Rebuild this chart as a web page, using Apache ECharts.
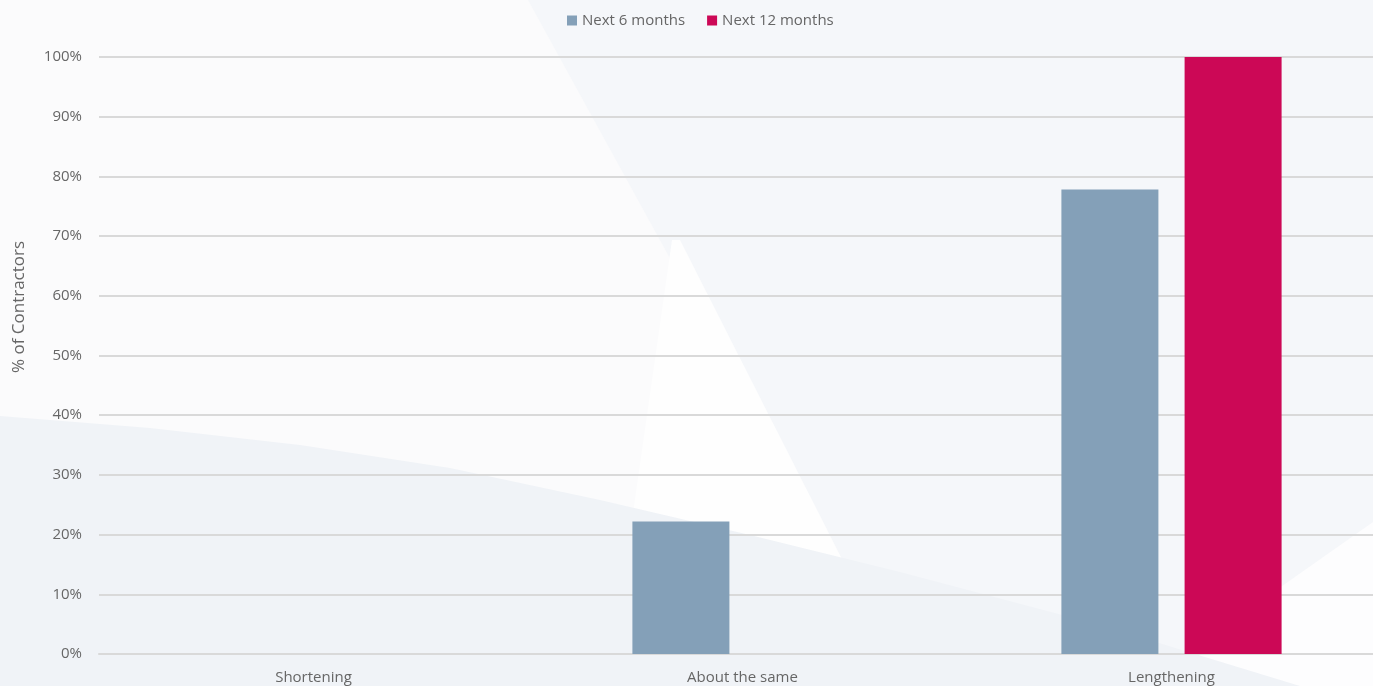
<!DOCTYPE html>
<html>
<head>
<meta charset="utf-8">
<script src="https://cdn.jsdelivr.net/npm/echarts@6/dist/echarts.min.js"></script>
<style>
  html, body { margin: 0; padding: 0; background: #f5f7fa; }
  #chart { width: 1373px; height: 686px; }
</style>
</head>
<body>
<div id="chart"></div>
<script>
// Expected change in lead times, share of contractors
const categories = ['Shortening', 'About the same', 'Lengthening'];
const seriesNames = ['Next 6 months', 'Next 12 months'];
const next6Months = [0, 22.2, 77.8];
const next12Months = [0, 0, 100];
const yTicks = { min: 0, max: 100, step: 10 };

const FONT = '"Open Sans", "Liberation Sans", sans-serif';
const LABEL = '#666666';

const chart = echarts.init(document.getElementById('chart'), null, { renderer: 'canvas' });

chart.setOption({
  backgroundColor: '#f5f7fa',
  animation: false,
  graphic: [
    // soft decorative backdrop panels
    { type: 'polygon', z: -10, silent: true,
      shape: { points: [[0, 0], [528, 0], [905, 686], [0, 686]] },
      style: { fill: '#fbfbfc' } },
    { type: 'polygon', z: -9, silent: true,
      shape: { points: [[672, 240], [680, 240], [845, 565], [622, 590]] },
      style: { fill: '#fefefe' } },
    { type: 'polygon', z: -9, silent: true,
      shape: { points: [[1373, 522], [1373, 686], [1140, 686]] },
      style: { fill: '#fdfdfe' } },
    { type: 'polygon', z: -8, silent: true,
      shape: { points: [[0, 416], [150, 428], [300, 445], [450, 468], [600, 500], [750, 535], [900, 572], [1100, 625], [1300, 686], [0, 686]] },
      style: { fill: '#f0f3f7' } },
    { type: 'text', z: 10, silent: true,
      x: 19, y: 307, rotation: Math.PI / 2,
      style: { text: '% of Contractors', font: '17px ' + FONT, fill: LABEL,
               align: 'center', verticalAlign: 'middle' } }
  ],
  legend: {
    data: seriesNames,
    top: 8,
    left: 562,
    itemWidth: 10,
    itemHeight: 10,
    itemGap: 22,
    icon: 'rect',
    textStyle: { color: LABEL, fontFamily: FONT, fontSize: 15 }
  },
  grid: { left: 99, width: 1287, top: 57, bottom: 32,
          containLabel: false, outerBoundsMode: 'none' },
  xAxis: {
    type: 'category',
    data: categories,
    axisTick: { show: false },
    axisLine: { lineStyle: { color: '#d9d9d9', width: 2 } },
    axisLabel: { color: LABEL, fontFamily: FONT, fontSize: 15, margin: 16 }
  },
  yAxis: {
    type: 'value',
    min: yTicks.min,
    max: yTicks.max,
    interval: yTicks.step,
    axisLine: { show: false },
    axisTick: { show: false },
    splitLine: { lineStyle: { color: '#d9d9d9', width: 2 } },
    axisLabel: { color: LABEL, fontFamily: FONT, fontSize: 15, margin: 17,
                 formatter: '{value}%' }
  },
  series: [
    { name: seriesNames[0], type: 'bar', data: next6Months,
      barWidth: 97, barGap: '27%',
      itemStyle: { color: '#84a0b8' } },
    { name: seriesNames[1], type: 'bar', data: next12Months,
      barWidth: 97, barGap: '27%',
      itemStyle: { color: '#cc0856' } }
  ]
});
</script>
</body>
</html>
